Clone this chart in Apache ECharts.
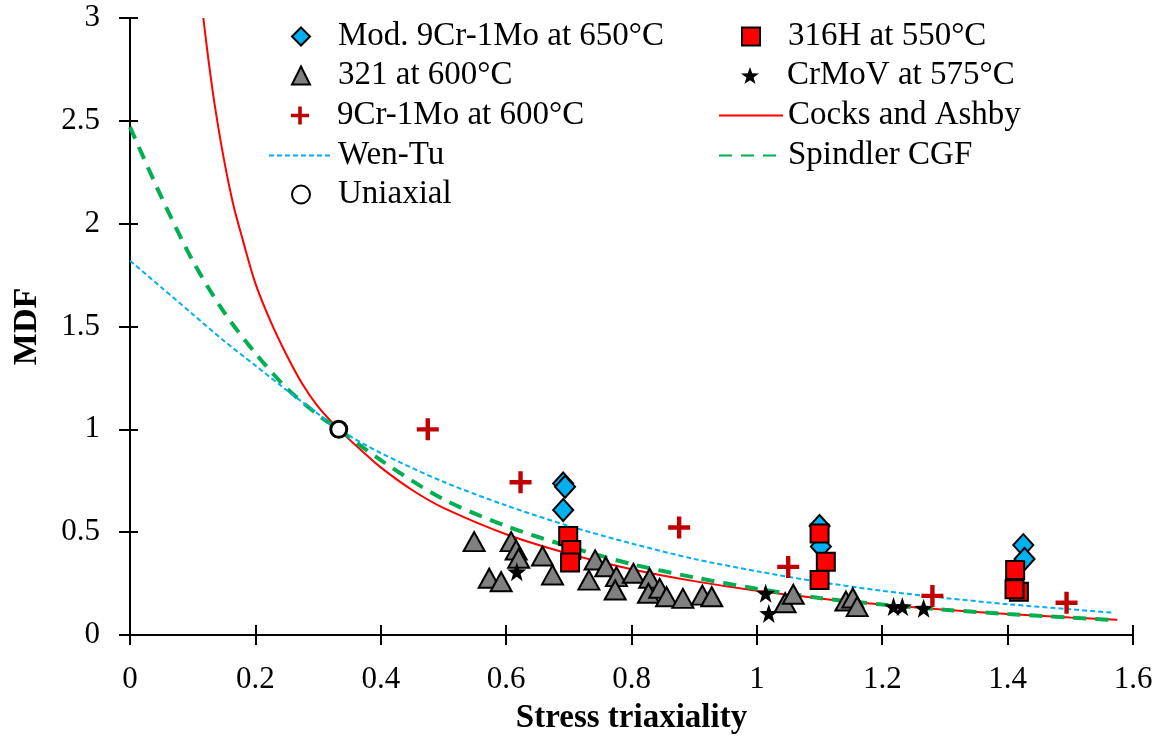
<!DOCTYPE html>
<html>
<head>
<meta charset="utf-8">
<script src="https://cdn.jsdelivr.net/npm/echarts@6/dist/echarts.min.js"></script>
<style>
  html, body { margin: 0; padding: 0; background: #fff; }
  #main { width: 1158px; height: 740px; }
</style>
</head>
<body>
<div id="main"></div>
<script>
// data: [stress triaxiality, MDF]
var mod9Cr650 = [[0.691, 0.737], [0.694, 0.721], [0.691, 0.608], [1.100, 0.53], [1.102, 0.43], [1.425, 0.437], [1.427, 0.37]]
var h316 = [[0.699, 0.481], [0.704, 0.413], [0.702, 0.352], [1.100, 0.494], [1.110, 0.356], [1.100, 0.267],
  [1.418, 0.21], [1.412, 0.316], [1.411, 0.222]]
var s321 = [[0.549, 0.454], [0.608, 0.454], [0.616, 0.413], [0.620, 0.373], [0.658, 0.384], [0.573, 0.276],
  [0.592, 0.259], [0.674, 0.292], [0.742, 0.365], [0.759, 0.332], [0.732, 0.267], [0.776, 0.284],
  [0.774, 0.219], [0.803, 0.30], [0.829, 0.276], [0.827, 0.203], [0.845, 0.227], [0.856, 0.186],
  [0.882, 0.178], [0.913, 0.194], [0.928, 0.186], [1.045, 0.157], [1.058, 0.198], [1.142, 0.165],
  [1.153, 0.18], [1.160, 0.138]]
var crmov = [[0.617, 0.308], [1.014, 0.203], [1.019, 0.105], [1.218, 0.138], [1.232, 0.138], [1.266, 0.13]]
var cr9600 = [[0.475, 1.0], [0.623, 0.743], [0.876, 0.523], [1.05, 0.331], [1.28, 0.19], [1.494, 0.157]]
var uniaxial = [[0.333, 1.0]]

var cocksAshby = [[0.117, 3.0], [0.125, 2.8], [0.135, 2.58], [0.15, 2.31], [0.165, 2.09], [0.18, 1.92],
  [0.2, 1.71], [0.225, 1.52], [0.25, 1.36], [0.275, 1.22], [0.3, 1.11], [0.333, 1.0], [0.37, 0.895],
  [0.4, 0.815], [0.45, 0.705], [0.5, 0.618], [0.6, 0.49], [0.7, 0.395], [0.8, 0.32], [0.9, 0.262],
  [1.0, 0.215], [1.1, 0.178], [1.2, 0.148], [1.3, 0.123], [1.4, 0.102], [1.5, 0.085], [1.575, 0.074]]
var wenTu = [[0, 1.82], [0.05, 1.69], [0.1, 1.56], [0.15, 1.43], [0.2, 1.31], [0.25, 1.19], [0.3, 1.075],
  [0.333, 1.0], [0.4, 0.885], [0.5, 0.745], [0.6, 0.63], [0.7, 0.53], [0.8, 0.445], [0.9, 0.37], [1.0, 0.31],
  [1.1, 0.258], [1.2, 0.215], [1.3, 0.18], [1.4, 0.15], [1.5, 0.125], [1.57, 0.108]]
var spindler = [[0, 2.47], [0.05, 2.13], [0.1, 1.82], [0.15, 1.57], [0.2, 1.37], [0.25, 1.2], [0.3, 1.07],
  [0.333, 1.0], [0.4, 0.85], [0.5, 0.66], [0.6, 0.53], [0.7, 0.43], [0.8, 0.345], [0.9, 0.28], [1.0, 0.225],
  [1.1, 0.18], [1.2, 0.148], [1.3, 0.123], [1.4, 0.102], [1.5, 0.085], [1.57, 0.073]]

var FONT = "'Liberation Serif', 'Times New Roman', serif"
var plusPath = 'path://M4,0 H6 V4 H10 V6 H6 V10 H4 V6 H0 V4 H4 Z'
var starPath = 'path://M10,0 L12.35,6.76 L19.51,6.91 L13.80,11.24 L15.88,18.09 L10,14 L4.12,18.09 L6.20,11.24 L0.49,6.91 L7.65,6.76 Z'

// legend: one small legend per entry so the two columns line up like the original
// [name, column text x, row centre y, isLine]
var legendLayout = [
  ['Mod. 9Cr-1Mo at 650°C', 337, 35, false],
  ['321 at 600°C', 337, 74, false],
  ['9Cr-1Mo at 600°C', 337, 114, false],
  ['Wen-Tu', 337, 154, true],
  ['Uniaxial', 337, 193, false],
  ['316H at 550°C', 787, 35, false],
  ['CrMoV at 575°C', 787, 74, false],
  ['Cocks and Ashby', 787, 114, true],
  ['Spindler CGF', 787, 154, true]
]
var legends = legendLayout.map(function (it) {
  var isLine = it[3]
  var w = isLine ? 64 : 18
  var left = isLine ? it[1] - 69 : it[1] - 37 - 9
  return {
    data: [it[0]],
    left: left,
    top: it[2] - 15,
    padding: 0,
    itemWidth: w,
    itemHeight: 18,
    itemGap: 0,
    selectedMode: false,
    itemStyle: isLine ? { opacity: 0 } : {},
    textStyle: {
      fontFamily: FONT, fontSize: 33, color: '#000',
      padding: isLine ? [2, 0, 0, 0] : [2, 0, 0, 23]
    }
  }
})

var chart = echarts.init(document.getElementById('main'))

var option = {
  backgroundColor: '#fff',
  animation: false,
  legend: legends,
  grid: { left: 130, right: 25, top: 18, bottom: 105 },
  xAxis: [{
    type: 'value',
    min: 0,
    max: 1.6,
    interval: 0.2,
    name: 'Stress triaxiality',
    nameLocation: 'middle',
    nameGap: 67,
    nameTextStyle: { fontFamily: FONT, fontSize: 33, fontWeight: 'bold', color: '#000' },
    axisLine: { lineStyle: { color: '#000', width: 2 } },
    axisTick: { length: 10, lineStyle: { color: '#000', width: 2 } },
    axisLabel: { fontFamily: FONT, fontSize: 31, color: '#000', margin: 29 },
    splitLine: { show: false }
  }, {
    // second copy only to draw the tick part inside the plot (ticks cross the axis)
    type: 'value', min: 0, max: 1.6, interval: 0.2, position: 'bottom',
    axisLine: { show: false },
    axisTick: { inside: true, length: 10, lineStyle: { color: '#000', width: 2 } },
    axisLabel: { show: false },
    splitLine: { show: false }
  }],
  yAxis: [{
    type: 'value',
    min: 0,
    max: 3,
    interval: 0.5,
    name: 'MDF',
    nameLocation: 'middle',
    nameGap: 86,
    nameTextStyle: { fontFamily: FONT, fontSize: 34, fontWeight: 'bold', color: '#000' },
    axisLine: { show: true, lineStyle: { color: '#000', width: 2 } },
    axisTick: { show: true, length: 11, lineStyle: { color: '#000', width: 2 } },
    axisLabel: { fontFamily: FONT, fontSize: 31, color: '#000', margin: 30 },
    splitLine: { show: false }
  }, {
    type: 'value', min: 0, max: 3, interval: 0.5, position: 'left',
    axisLine: { show: false },
    axisTick: { show: true, inside: true, length: 8, lineStyle: { color: '#000', width: 2 } },
    axisLabel: { show: false },
    splitLine: { show: false }
  }],
  series: [
    {
      name: 'Cocks and Ashby', type: 'line', data: cocksAshby, smooth: 0.3, symbol: 'none', z: 2,
      lineStyle: { color: '#FF0000', width: 2 }, itemStyle: { color: '#FF0000' }
    },
    {
      name: 'Spindler CGF', type: 'line', data: spindler, smooth: 0.3, symbol: 'none', z: 2,
      lineStyle: { color: '#00B050', width: 4, type: [13, 9] }, itemStyle: { color: '#00B050' }
    },
    {
      name: 'Wen-Tu', type: 'line', data: wenTu, smooth: 0.3, symbol: 'none', z: 2,
      lineStyle: { color: '#00B0F0', width: 2, type: [5, 3] }, itemStyle: { color: '#00B0F0' }
    },
    {
      name: 'Mod. 9Cr-1Mo at 650°C', type: 'scatter', data: mod9Cr650, symbol: 'diamond', symbolSize: [20, 22], z: 3,
      itemStyle: { color: '#00B0F0', borderColor: '#000', borderWidth: 2, opacity: 1 }
    },
    {
      name: '316H at 550°C', type: 'scatter', data: h316, symbol: 'rect', symbolSize: 18, z: 4,
      itemStyle: { color: '#FF0000', borderColor: '#000', borderWidth: 2, opacity: 1 }
    },
    {
      name: '321 at 600°C', type: 'scatter', data: s321, symbol: 'triangle', symbolSize: [21, 19], z: 4,
      itemStyle: { color: '#808080', borderColor: '#000', borderWidth: 2, opacity: 1 }
    },
    {
      name: 'CrMoV at 575°C', type: 'scatter', data: crmov, symbol: starPath, symbolSize: 19, z: 5,
      itemStyle: { color: '#000', opacity: 1 }
    },
    {
      name: '9Cr-1Mo at 600°C', type: 'scatter', data: cr9600, symbol: plusPath, symbolSize: 22, z: 5,
      itemStyle: { color: '#C00000', opacity: 1 }
    },
    {
      name: 'Uniaxial', type: 'scatter', data: uniaxial, symbol: 'circle', symbolSize: 16, z: 6,
      itemStyle: { color: '#fff', borderColor: '#000', borderWidth: 3, opacity: 1 }
    }
  ]
}

chart.setOption(option)
</script>
</body>
</html>
